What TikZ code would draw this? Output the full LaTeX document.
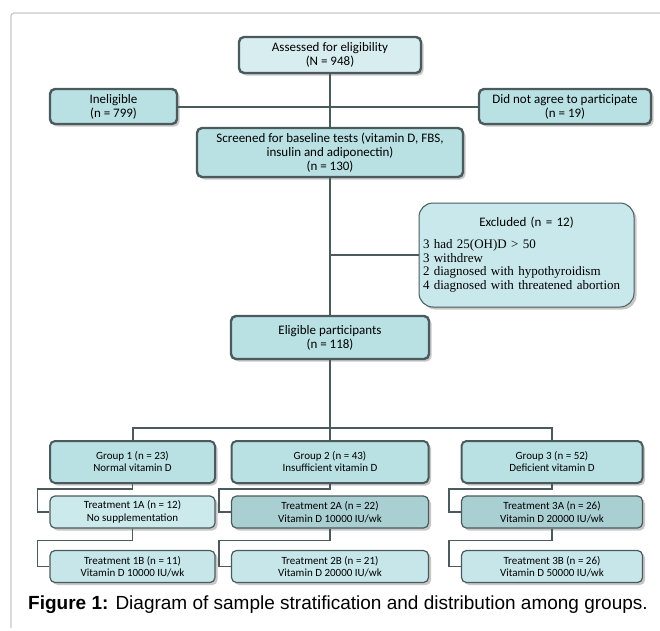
\documentclass[tikz,border=0pt]{standalone}
\usepackage{fontspec}
\newfontfamily\boxfont{Carlito}
\newfontfamily\listfont{Liberation Serif}
\newfontfamily\capfont{Liberation Sans}
\usetikzlibrary{shadows}
\definecolor{edgegray}{HTML}{4B5A5C}
\definecolor{framegray}{HTML}{C8C8C8}
\definecolor{toplight}{HTML}{D8EDEF}
\definecolor{boxfill}{HTML}{B9E0E3}
\definecolor{exclfill}{HTML}{C9E8EB}
\definecolor{tlight}{HTML}{CCE9EC}
\definecolor{tdark}{HTML}{AACFD3}
\definecolor{tbfill}{HTML}{C6E6E9}

\begin{document}
\begin{tikzpicture}[x=1pt, y=-1pt,
    box/.style={draw=edgegray, line width=2.4pt, rounded corners=5pt, fill=boxfill,
        align=center, inner sep=0pt, font=\boxfont\fontsize{13}{14}\selectfont,
        drop shadow={shadow xshift=2.5pt, shadow yshift=-2.5pt, fill=black!22, opacity=1}},
    gbox/.style={box, line width=2pt, font=\boxfont\fontsize{11}{12}\selectfont,
        minimum height=42pt},
    tbox/.style={box, line width=1.2pt, font=\boxfont\fontsize{11}{12.5}\selectfont,
        minimum width=165pt, minimum height=32pt},
    exclbox/.style={box, line width=1pt, rounded corners=14pt, fill=exclfill},
    link/.style={draw=edgegray, line width=2pt},
    thinlink/.style={draw=edgegray, line width=1.6pt}
]
    \useasboundingbox (0,0) rectangle (660,630);

    % Frame
    \draw[framegray, line width=1.2pt, rounded corners=3pt] (660,13) -- (11,13) -- (11,628);

    % Enrolment
    \node[box, fill=toplight, minimum width=182pt, minimum height=36pt] (assess) at (330,55)
        {Assessed for eligibility\\(N = 948)};
    \node[box, minimum width=127pt, minimum height=35pt] (inelig) at (113.5,106.5)
        {Ineligible\\(n = 799)};
    \node[box, minimum width=172pt, minimum height=35pt] (noagree) at (565,106.5)
        {Did not agree to participate\\(n = 19)};
    \node[box, minimum width=266pt, minimum height=49pt] (screen) at (330,152.5)
        {Screened for baseline tests (vitamin D, FBS,\\insulin and adiponectin)\\(n = 130)};
    \node[exclbox, minimum width=215pt, minimum height=104pt, text width=207pt, align=left] (excl) at (526.5,255)
        {\centering Excluded (n = 12)\par\vspace{8pt}\raggedright
         \listfont\fontsize{13}{13.7}\selectfont
         3 had 25(OH)D > 50\\3 withdrew\\2 diagnosed with hypothyroidism\\4 diagnosed with threatened abortion};
    \node[box, minimum width=198pt, minimum height=43pt] (elig) at (330,337.5)
        {Eligible participants\\(n = 118)};

    % Groups
    \node[gbox, minimum width=165pt] (g1) at (132.5,462) {Group 1 (n = 23)\\Normal vitamin D};
    \node[gbox, minimum width=197pt] (g2) at (330,462) {Group 2 (n = 43)\\Insufficient vitamin D};
    \node[gbox, minimum width=181pt] (g3) at (552,462) {Group 3 (n = 52)\\Deficient vitamin D};

    % Treatments
    \node[tbox, fill=tlight] (ta1) at (132.5,512) {Treatment 1A (n = 12)\\No supplementation};
    \node[tbox, fill=tdark, minimum width=197pt] (ta2) at (330,512) {Treatment 2A (n = 22)\\Vitamin D 10000 IU/wk};
    \node[tbox, fill=tdark, minimum width=181pt] (ta3) at (552,512) {Treatment 3A (n = 26)\\Vitamin D 20000 IU/wk};
    \node[tbox, fill=tbfill] (tb1) at (132.5,566.5) {Treatment 1B (n = 11)\\Vitamin D 10000 IU/wk};
    \node[tbox, fill=tbfill, minimum width=197pt] (tb2) at (330,566.5) {Treatment 2B (n = 21)\\Vitamin D 20000 IU/wk};
    \node[tbox, fill=tbfill, minimum width=181pt] (tb3) at (552,566.5) {Treatment 3B (n = 26)\\Vitamin D 50000 IU/wk};

    % Caption
    \node[font=\capfont\fontsize{19}{22}\selectfont] (caption) at (338,605)
        {\textbf{Figure 1:} Diagram of sample stratification and distribution among groups.};

    % Connectors
    \coordinate (bus) at (330,428);
    \draw[link, line width=2.6pt] (assess.south) -- (screen.north);
    \draw[link] (inelig.east) -- (noagree.west);
    \draw[link, line width=2.6pt] (screen.south) -- (elig.north);
    \draw[link] (excl.west -| elig.north) -- (excl.west);
    \draw[link, line width=2.6pt] (elig.south) -- (g2.north);
    \draw[link] (g1.north) |- (bus) -| (g3.north);
    \foreach \c in {1,2,3} {
        \draw[thinlink] (g\c.south) -- ++(0,5) -| ([xshift=-12pt]ta\c.west) -- (ta\c.west);
        \draw[thinlink] (ta\c.south) -- ++(0,12) -| ([xshift=-12pt]tb\c.west) -- (tb\c.west);
    }
\end{tikzpicture}
\end{document}
